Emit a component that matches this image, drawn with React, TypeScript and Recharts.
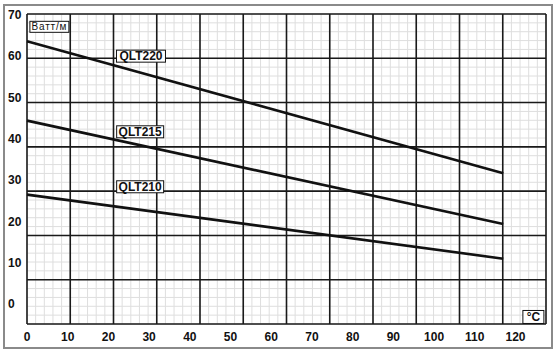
import React from "react";
import { CartesianGrid, Line, LineChart, ReferenceDot, XAxis, YAxis } from "recharts";

// temperature (°C) at the two ends of each curve
const temps = [0, 117];
const qlt220 = [63.6, 31.7];
const qlt215 = [44.4, 19.4];
const qlt210 = [26.5, 11.0];

const xTicks = [0, 10, 20, 30, 40, 50, 60, 70, 80, 90, 100, 110, 120];
const yTicks = [0, 10, 20, 30, 40, 50, 60, 70];

// the paper grid is not aligned with the tick labels: 12 x 7 major cells, 5 minor per cell
const MAJOR_COLS = 12;
const MAJOR_ROWS = 7;
const MINOR_PER_CELL = 5;

const data = temps.map((t, i) => ({
  t,
  qlt220: qlt220[i],
  qlt215: qlt215[i],
  qlt210: qlt210[i],
}));

const notes = [
  { text: "QLT220", x: 28, y: 60, w: 49, h: 12, size: 12, bold: true },
  { text: "QLT215", x: 27.8, y: 41.7, w: 47, h: 12, size: 12, bold: true },
  { text: "QLT210", x: 27.8, y: 28.4, w: 47, h: 12, size: 12, bold: true },
  { text: "Ватт/м", x: 5.5, y: 67.1, w: 39, h: 11, size: 10, bold: false },
  { text: "°C", x: 124.4, y: -3.1, w: 21, h: 13, size: 12, bold: true },
];

const font = "Arial, 'Liberation Sans', sans-serif";
const tickStyle = { fill: "#111", fontSize: 12, fontWeight: "bold", fontFamily: font };

const split = (start: number, size: number, n: number) =>
  Array.from({ length: n + 1 }, (_, i) => start + (i * size) / n);

const vGen = (n: number) => ({ offset }: any) => split(offset.left, offset.width, n);
const hGen = (n: number) => ({ offset }: any) => split(offset.top, offset.height, n);

function noteShape(n: (typeof notes)[number]) {
  return (props: any) => {
    const { cx, cy } = props;
    return (
      <g>
        <rect x={cx - n.w / 2} y={cy - n.h / 2} width={n.w} height={n.h} fill="#fff" stroke="#111" strokeWidth={1} />
        <text
          x={cx}
          y={cy}
          dy="0.36em"
          textAnchor="middle"
          fontFamily={font}
          fontSize={n.size}
          fontWeight={n.bold ? "bold" : "normal"}
          letterSpacing={n.bold ? 0 : 0.8}
          fill="#111"
        >
          {n.text}
        </text>
      </g>
    );
  };
}

export default function App() {
  return (
    <div style={{ position: "fixed", left: 0, top: 0, width: 556, height: 354, background: "#fff" }}>
      <div
        style={{
          position: "absolute",
          left: 3,
          top: 4,
          width: 550,
          height: 345,
          border: "2px solid #8a8a8a",
          boxSizing: "border-box",
        }}
      />
      <div style={{ position: "absolute", left: 0, top: 0 }}>
        <LineChart width={556} height={354} data={data} margin={{ top: 14, right: 10, left: 0, bottom: 0 }}>
          <CartesianGrid
            stroke="#dedede"
            strokeWidth={1}
            fill="none"
            verticalCoordinatesGenerator={vGen(MAJOR_COLS * MINOR_PER_CELL)}
            horizontalCoordinatesGenerator={hGen(MAJOR_ROWS * MINOR_PER_CELL)}
          />
          <CartesianGrid
            stroke="#1a1a1a"
            strokeWidth={1.6}
            fill="none"
            verticalCoordinatesGenerator={vGen(MAJOR_COLS)}
            horizontalCoordinatesGenerator={hGen(MAJOR_ROWS)}
          />
          <XAxis
            dataKey="t"
            type="number"
            domain={[0, 127.5]}
            ticks={xTicks}
            interval={0}
            height={30}
            axisLine={false}
            tickLine={false}
            tickSize={0}
            tickMargin={8}
            tick={tickStyle}
          />
          <YAxis
            type="number"
            domain={[-4.8, 70.2]}
            ticks={yTicks}
            interval={0}
            width={27}
            axisLine={false}
            tickLine={false}
            tickSize={0}
            tickMargin={19}
            tick={{ ...tickStyle, textAnchor: "start" }}
          />
          <Line type="linear" dataKey="qlt220" stroke="#111" strokeWidth={2.6} dot={false} isAnimationActive={false} />
          <Line type="linear" dataKey="qlt215" stroke="#111" strokeWidth={2.6} dot={false} isAnimationActive={false} />
          <Line type="linear" dataKey="qlt210" stroke="#111" strokeWidth={2.6} dot={false} isAnimationActive={false} />
          {notes.map((n) => (
            <ReferenceDot key={n.text} x={n.x} y={n.y} r={0} shape={noteShape(n)} />
          ))}
        </LineChart>
      </div>
    </div>
  );
}
